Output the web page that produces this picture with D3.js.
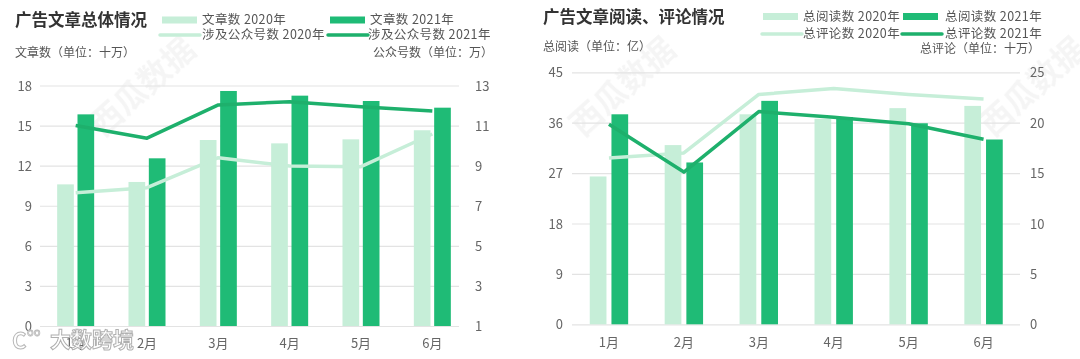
<!DOCTYPE html>
<html><head><meta charset="utf-8">
<script src="https://cdn.jsdelivr.net/npm/d3@7"></script>
<style>body{margin:0;background:#fff}svg{display:block}text{font-family:"Noto Sans CJK SC","Noto Sans",sans-serif}</style>
</head><body>
<svg id="c" width="1080" height="359"></svg>
<script>
const months = ["1月","2月","3月","4月","5月","6月"];
// Left chart
const articles2020 = [10.6, 10.78, 13.92, 13.67, 13.97, 14.65];
const articles2021 = [15.84, 12.55, 17.59, 17.24, 16.84, 16.34];
const accounts2020 = [7.65, 7.9, 9.4, 8.98, 8.95, 10.58];
const accounts2021 = [11.0, 10.37, 12.03, 12.19, 11.94, 11.73];
const leftTicksL = [0,3,6,9,12,15,18];
const leftTicksR = [1,3,5,7,9,11,13];
// Right chart
const reads2020 = [26.4, 32.0, 37.5, 36.7, 38.6, 39.0];
const reads2021 = [37.5, 28.9, 39.9, 37.0, 35.9, 33.0];
const comments2020 = [16.5, 17.0, 22.8, 23.4, 22.8, 22.35];
const comments2021 = [19.85, 15.1, 21.1, 20.55, 19.9, 18.35];
const rightTicksL = [0,9,18,27,36,45];
const rightTicksR = [0,5,10,15,20,25];

const LIGHT = "#c6eed8", DARK = "#1fbb76", DARKLINE = "#1eb06c";
const svg = d3.select("#c");

// faint watermarks
const wm = svg.append("g").attr("fill","#000").attr("opacity",0.04).attr("font-size",32).attr("font-weight","bold");
[[150,95],[630,95],[1040,95]].forEach(([x,y])=>{
  wm.append("text").attr("transform",`translate(${x},${y}) rotate(-42)`).attr("text-anchor","middle").text("西瓜数据");
});

function chart(cfg){
  const g = svg.append("g");
  const x = d3.scaleBand().domain(months).range(cfg.xr);
  const x1 = d3.scaleBand().domain(["a","b"]).range([-cfg.half, cfg.half]).paddingInner(cfg.pin);
  const yL = d3.scaleLinear().domain(cfg.dl).range(cfg.yr);
  const yR = d3.scaleLinear().domain(cfg.dr).range(cfg.yr);
  // grid
  g.selectAll(".grid").data(cfg.tl).join("line")
    .attr("x1",cfg.gx[0]).attr("x2",cfg.gx[1])
    .attr("y1",d=>yL(d)+0.5).attr("y2",d=>yL(d)+0.5)
    .attr("stroke","#e3e3e3").attr("stroke-width",1.2);
  const axL = d3.axisLeft(yL).tickValues(cfg.tl).tickSize(0).tickPadding(0);
  const gl = g.append("g").attr("transform",`translate(${cfg.lx},0)`).call(axL);
  gl.select(".domain").remove();
  gl.selectAll("text").attr("fill","#666").attr("font-size",13).attr("dy","0.35em");
  const axR = d3.axisRight(yR).tickValues(cfg.tr).tickSize(0).tickPadding(0);
  const gr = g.append("g").attr("transform",`translate(${cfg.rx},0)`).call(axR);
  gr.select(".domain").remove();
  gr.selectAll("text").attr("fill","#666").attr("font-size",13).attr("dy","0.35em");
  const axB = d3.axisBottom(x).tickSize(0).tickPadding(0);
  const gb = g.append("g").attr("transform",`translate(0,${cfg.by})`).call(axB);
  gb.select(".domain").remove();
  gb.selectAll("text").attr("fill","#666").attr("font-size",13).attr("dy","0.35em");
  // bars
  const cx = m => x(m) + x.bandwidth()/2;
  g.selectAll(".b1").data(cfg.b1).join("rect")
    .attr("x",(d,i)=>cx(months[i])+x1("a")).attr("width",x1.bandwidth())
    .attr("y",d=>yL(d)).attr("height",d=>yL(cfg.dl[0])-yL(d)).attr("fill",LIGHT);
  g.selectAll(".b2").data(cfg.b2).join("rect")
    .attr("x",(d,i)=>cx(months[i])+x1("b")).attr("width",x1.bandwidth())
    .attr("y",d=>yL(d)).attr("height",d=>yL(cfg.dl[0])-yL(d)).attr("fill",DARK);
  const line = d3.line().x((d,i)=>cx(months[i])).y(d=>yR(d));
  g.append("path").attr("d",line(cfg.l1)).attr("fill","none").attr("stroke",LIGHT).attr("stroke-width",3.5).attr("stroke-linejoin","round");
  g.append("path").attr("d",line(cfg.l2)).attr("fill","none").attr("stroke",DARKLINE).attr("stroke-width",3.5).attr("stroke-linejoin","round");
  // texts
  g.append("text").attr("x",cfg.title[0]).attr("y",cfg.title[1]).attr("dy","0.35em")
    .attr("font-size",16.5).attr("font-weight","bold").attr("fill","#333").text(cfg.title[2]);
  cfg.leg.forEach(l=>{
    if(l.t==="r") g.append("rect").attr("x",l.x).attr("y",l.y-3.5).attr("width",35).attr("height",7).attr("fill",l.c);
    else g.append("line").attr("x1",l.x).attr("x2",l.x+40).attr("y1",l.y).attr("y2",l.y).attr("stroke",l.c).attr("stroke-width",3.5).attr("stroke-linecap","round");
    g.append("text").attr("x",l.tx).attr("y",l.y).attr("dy","0.35em").attr("font-size",12.5).attr("fill","#555").attr("letter-spacing",0.4).text(l.s);
  });
  cfg.axt.forEach(a=>{
    g.append("text").attr("x",a[0]).attr("y",a[1]).attr("dy","0.35em").attr("text-anchor",a[3]).attr("font-size",12).attr("fill","#555").text(a[2]);
  });
}

chart({xr:[40,468], half:18.5, pin:0.18, dl:[0,18], dr:[1,13], yr:[326,85.5], gx:[40,459],
  tl:leftTicksL, tr:leftTicksR, lx:32, rx:475, by:343,
  b1:articles2020, b2:articles2021, l1:accounts2020, l2:accounts2021,
  title:[15,20,"广告文章总体情况"],
  leg:[{t:"r",x:162,y:20,c:LIGHT,tx:202,s:"文章数 2020年"},{t:"r",x:330,y:20,c:DARK,tx:370,s:"文章数 2021年"},
       {t:"l",x:160,y:35,c:LIGHT,tx:202,s:"涉及公众号数 2020年"},{t:"l",x:328,y:35,c:DARKLINE,tx:368,s:"涉及公众号数 2021年"}],
  axt:[[15,53,"文章数（单位：十万）","start"],[493,53,"公众号数（单位：万）","end"]]
});
chart({xr:[571.5,1021], half:19.2, pin:0.23, dl:[0,45], dr:[0,25], yr:[324.3,72.3], gx:[572,1020],
  tl:rightTicksL, tr:rightTicksR, lx:563, rx:1030, by:342,
  b1:reads2020, b2:reads2021, l1:comments2020, l2:comments2021,
  title:[543,17,"广告文章阅读、评论情况"],
  leg:[{t:"r",x:763,y:16.5,c:LIGHT,tx:803,s:"总阅读数 2020年"},{t:"r",x:903,y:16.5,c:DARK,tx:945,s:"总阅读数 2021年"},
       {t:"l",x:762,y:34,c:LIGHT,tx:803,s:"总评论数 2020年"},{t:"l",x:902,y:34,c:DARKLINE,tx:945,s:"总评论数 2021年"}],
  axt:[[543,46.5,"总阅读（单位：亿）","start"],[1040,48.5,"总评论（单位：十万）","end"]]
});

// bottom-left watermark
const bw = svg.append("g");
bw.append("text").attr("x",12).attr("y",341).attr("dy","0.35em").attr("font-size",22).attr("font-weight","bold")
  .attr("fill","#fff").attr("stroke","#b8b8b8").attr("stroke-width",1).text("C");
bw.append("text").attr("x",27).attr("y",332).attr("dy","0.35em").attr("font-size",11)
  .attr("fill","#fff").attr("stroke","#b8b8b8").attr("stroke-width",0.8).text("oo");
bw.append("text").attr("x",50).attr("y",340).attr("dy","0.35em").attr("font-size",21).attr("font-weight","bold")
  .attr("fill","#fff").attr("stroke","#b0b0b0").attr("stroke-width",1).text("大数跨境");
</script>
</body></html>
